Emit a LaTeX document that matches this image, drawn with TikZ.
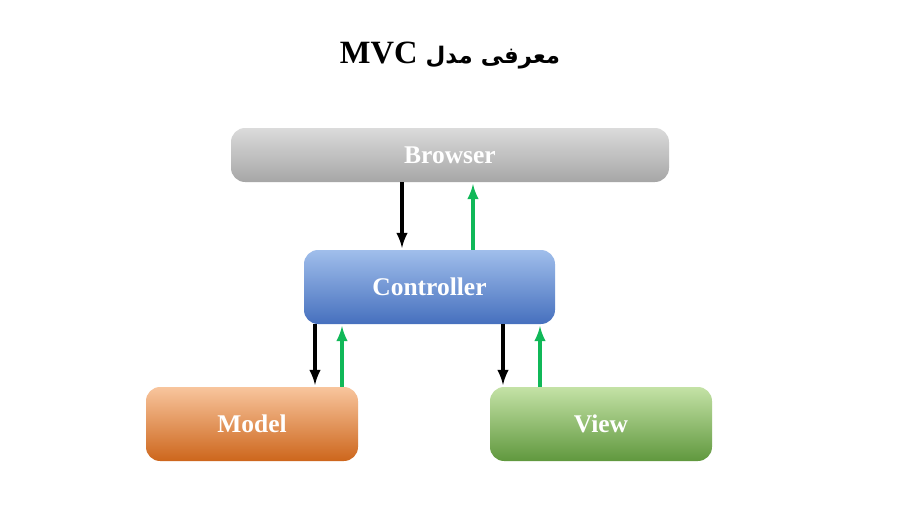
\documentclass[tikz,border=0pt]{standalone}
\usetikzlibrary{arrows}
\usepackage{fontspec}
\setmainfont{Liberation Serif}
\newfontfamily\arabicfont[Script=Arabic]{DejaVu Sans}
\TeXXeTstate=1
\definecolor{okgreen}{HTML}{10B858}

\begin{document}
\begin{tikzpicture}[
			box/.style={rounded corners=8pt, minimum height=1.48cm, text=white,
				font=\fontsize{14.5}{16}\selectfont\bfseries, inner sep=0pt},
			down/.style={line width=1.9pt, draw=black, -latex, shorten >=1pt},
			up/.style={line width=1.9pt, draw=okgreen, -latex, shorten >=1pt}
		]
			\useasboundingbox[fill=white] (0,0) rectangle (18,10.12);
			\node (title) at (9,9.0) {\fontsize{18.5}{20}\selectfont\bfseries
				\beginR{\arabicfont\fontsize{13}{16}\selectfont معرفی مدل} \beginL MVC\endL\endR};
			\node[box, minimum width=8.76cm, minimum height=1.08cm,
				top color=gray!28, bottom color=gray!70] (browser) at (9,7.02) {Browser};
			\node[box, minimum width=5.02cm,
				top color={rgb,255:red,160;green,190;blue,235},
				bottom color={rgb,255:red,70;green,112;blue,190}] (ctrl) at (8.59,4.38) {Controller};
			\node[box, minimum width=4.24cm,
				top color={rgb,255:red,248;green,197;blue,157},
				middle color={rgb,255:red,242;green,152;blue,74},
				bottom color={rgb,255:red,205;green,102;blue,28}] (model) at (5.04,1.64) {Model};
			\node[box, minimum width=4.44cm,
				top color={rgb,255:red,196;green,226;blue,166},
				middle color={rgb,255:red,146;green,200;blue,96},
				bottom color={rgb,255:red,96;green,152;blue,62}] (view) at (12.02,1.64) {View};
			% arrow columns
			\coordinate (c1) at (8.04,0);
			\coordinate (c2) at (9.46,0);
			\coordinate (c3) at (6.30,0);
			\coordinate (c4) at (6.84,0);
			\coordinate (c5) at (10.06,0);
			\coordinate (c6) at (10.80,0);
			\draw[down] (browser.south -| c1) -- (ctrl.north -| c1);
			\draw[up] (ctrl.north -| c2) -- (browser.south -| c2);
			\draw[down] (ctrl.south -| c3) -- (model.north -| c3);
			\draw[up] (model.north -| c4) -- (ctrl.south -| c4);
			\draw[down] (ctrl.south -| c5) -- (view.north -| c5);
			\draw[up] (view.north -| c6) -- (ctrl.south -| c6);
		\end{tikzpicture}
\end{document}
